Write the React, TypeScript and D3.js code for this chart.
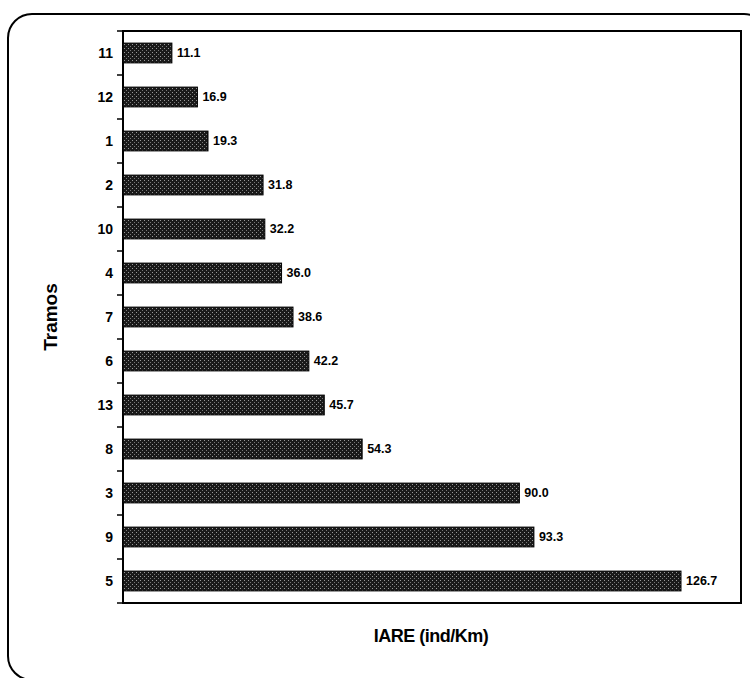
import React from "react";
import * as d3 from "d3";

const categories = ["11", "12", "1", "2", "10", "4", "7", "6", "13", "8", "3", "9", "5"];
const values = [11.1, 16.9, 19.3, 31.8, 32.2, 36.0, 38.6, 42.2, 45.7, 54.3, 90.0, 93.3, 126.7];
const xTitle = "IARE (ind/Km)";
const yTitle = "Tramos";

const W = 750, H = 678;
const plot = { left: 123, top: 31, right: 741, bottom: 603 };

export default function App() {
  const x = d3.scaleLinear().domain([0, 126.7]).range([plot.left, 681]);
  const y = d3.scaleBand<string>().domain(categories).range([plot.top, plot.bottom]).paddingInner(0.55).paddingOuter(0.275);
  const step = (plot.bottom - plot.top) / categories.length;
  const tickYs = d3.range(categories.length + 1).map((i) => plot.top + i * step);
  const font = "Arial, 'Liberation Sans', sans-serif";
  return (
    <svg width={W} height={H} style={{ position: "absolute", left: 0, top: 0, background: "#fff" }}>
      <defs>
        <pattern id="stip" width="4" height="4" patternUnits="userSpaceOnUse">
          <rect width="4" height="4" fill="#1a1a1a" />
          <rect x="0" y="0" width="1" height="1" fill="#9a9a9a" />
          <rect x="2" y="2" width="1" height="1" fill="#777" />
        </pattern>
      </defs>
      <rect x={8} y={14} width={760} height={666} rx={24} ry={24} fill="none" stroke="#000" strokeWidth={2} />
      <rect x={plot.left} y={plot.top} width={plot.right - plot.left} height={plot.bottom - plot.top} fill="none" stroke="#000" strokeWidth={2} />
      {tickYs.map((t, i) => (
        <line key={i} x1={plot.left - 6} x2={plot.left} y1={t} y2={t} stroke="#000" strokeWidth={1.5} />
      ))}
      {categories.map((c, i) => (
        <g key={c}>
          <rect x={x(0)} y={y(c)!} width={x(values[i]) - x(0)} height={y.bandwidth()} fill="url(#stip)" stroke="#000" strokeWidth={1} />
          <text x={x(values[i]) + 5} y={y(c)! + y.bandwidth() / 2} dy="0.35em" fontFamily={font} fontWeight="bold" fontSize={12.5}>
            {values[i].toFixed(1)}
          </text>
          <text x={113} y={y(c)! + y.bandwidth() / 2} dy="0.35em" textAnchor="end" fontFamily={font} fontWeight="bold" fontSize={14}>
            {c}
          </text>
        </g>
      ))}
      <text transform={`translate(57,${(plot.top + plot.bottom) / 2}) rotate(-90)`} textAnchor="middle" fontFamily={font} fontWeight="bold" fontSize={19}>
        {yTitle}
      </text>
      <text x={431} y={642} textAnchor="middle" fontFamily={font} fontWeight="bold" fontSize={18} letterSpacing={-0.5}>
        {xTitle}
      </text>
    </svg>
  );
}
